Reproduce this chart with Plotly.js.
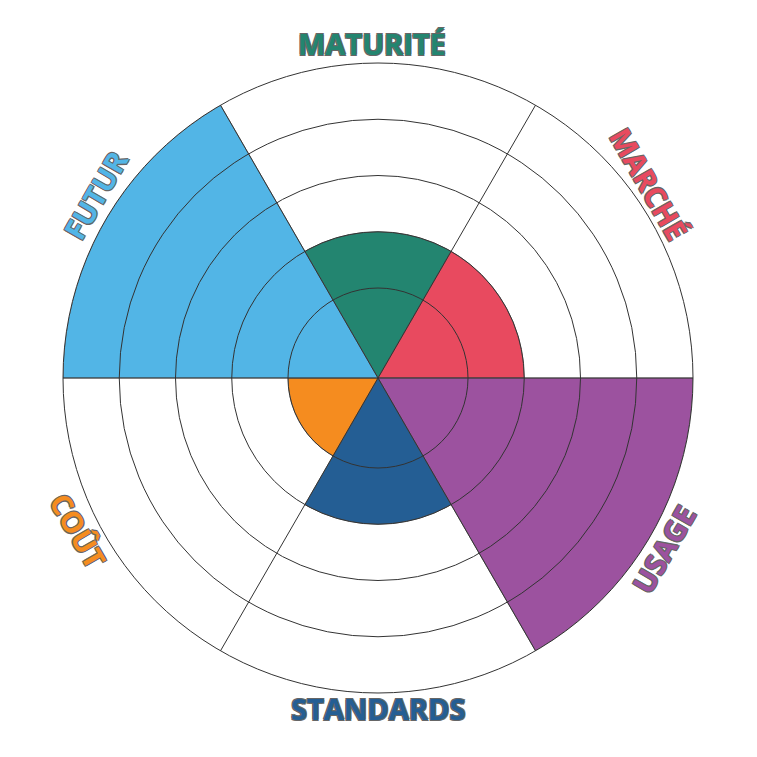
<!DOCTYPE html>
<html>
<head>
<meta charset="utf-8">
<script src="https://cdn.plot.ly/plotly-3.0.1.min.js"></script>
<style>html,body{margin:0;padding:0;background:#fff}#chart{width:757px;height:757px}</style>
</head>
<body>
<div id="chart"></div>
<script>
// Data
const categories = ['MATURITÉ', 'MARCHÉ', 'USAGE', 'STANDARDS', 'COÛT', 'FUTUR'];
const values = [2, 2, 5, 2, 1, 5];
const colors = ['#238570', '#e84a5f', '#9c529f', '#245e94', '#f58c1f', '#52b5e6'];
const radialTicks = [1, 2, 3, 4, 5];

// Layout helpers
const RMIN = -0.6, RMAX = 5;
const step = 360 / categories.length;
const theta = categories.map((c, i) => 90 - step * i);

const trace = {
  type: 'barpolar',
  r: values.map(v => v - RMIN),
  base: RMIN,
  theta: theta,
  width: categories.map(() => step),
  text: categories,
  marker: { color: colors, line: { color: '#555', width: 0.6 } },
  hoverinfo: 'text+r',
  showlegend: false,
  subplot: 'polar'
};

// empty trace so the grid overlay subplot is drawn above the bars
const gridTrace = {
  type: 'scatterpolar', subplot: 'polar2', r: [], theta: [],
  mode: 'markers', hoverinfo: 'skip', showlegend: false
};

const labelPos = [
  { a: 91, r: 0.531, ang: 0 },
  { a: 35.7, r: 0.53, ang: 60 },
  { a: -31, r: 0.528, ang: -60 },
  { a: -90, r: 0.524, ang: 0 },
  { a: -153, r: 0.534, ang: 60 },
  { a: 147, r: 0.535, ang: -60 }
];
const annotations = categories.map((c, i) => {
  const p = labelPos[i];
  const rad = p.a * Math.PI / 180;
  return {
    text: c, xref: 'paper', yref: 'paper',
    x: 0.5 + p.r * Math.cos(rad), y: 0.5 + p.r * Math.sin(rad),
    xanchor: 'center', yanchor: 'middle', showarrow: false,
    textangle: p.ang,
    font: {
      family: 'Open Sans, sans-serif', size: 29, weight: 700, color: colors[i],
      shadow: '-1px -1px 0 #666, 1px -1px 0 #666, -1px 1px 0 #666, 1px 1px 0 #666'
    }
  };
});

const radial = {
  range: [RMIN, RMAX], tickvals: radialTicks, showticklabels: false, ticks: '',
  showline: false, gridcolor: '#333', gridwidth: 1
};
const angular = {
  tickmode: 'linear', tick0: 0, dtick: step, showticklabels: false, ticks: '',
  showline: true, linecolor: '#333', linewidth: 1,
  gridcolor: '#333', gridwidth: 1, direction: 'counterclockwise', rotation: 0
};

const layout = {
  width: 757, height: 757,
  margin: { l: 63, r: 64, t: 63, b: 64 },
  paper_bgcolor: '#fff',
  showlegend: false,
  polar: {
    domain: { x: [0, 1], y: [0, 1] },
    bgcolor: '#fff',
    radialaxis: Object.assign({}, radial, { showgrid: false }),
    angularaxis: Object.assign({}, angular, { showgrid: false, showline: false })
  },
  polar2: {
    domain: { x: [0, 1], y: [0, 1] },
    bgcolor: 'rgba(0,0,0,0)',
    radialaxis: radial,
    angularaxis: angular
  },
  annotations: annotations
};

Plotly.newPlot('chart', [trace, gridTrace], layout, { displayModeBar: false, staticPlot: true });
</script>
</body>
</html>
